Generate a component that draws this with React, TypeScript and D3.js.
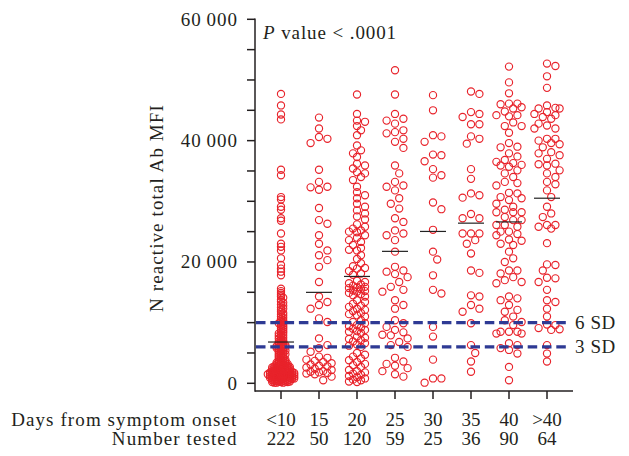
import React from "react";
import * as d3 from "d3";

// ---- data (values in thousands of MFI) ----
const categories = ["<10", "15", "20", "25", "30", "35", "40", ">40"];
const numberTested = ["222", "50", "120", "59", "25", "36", "90", "64"];

const lt10 = [
  47.7, 45.8, 44.3, 43.5, 35.2, 34.3, 30.7, 30.3, 29.1, 28.6, 27.2, 26.8, 24.7, 23.0, 22.5, 21.9, 20.6, 19.5, 18.9, 18.4, 17.8,
  15.6, 15.2, 14.9, 14.6, 14.3, 14.1, 13.8, 13.5, 13.3, 13.0, 12.8, 12.5, 12.3, 12.1, 11.8, 11.6, 11.4, 11.2, 11.0, 10.8, 10.6, 10.4, 10.3, 10.1, 10.0,
  9.9, 9.8, 9.6, 9.5, 9.3, 9.2, 9.0, 8.9, 8.7, 8.6, 8.4, 8.3, 8.2, 8.0, 7.9, 7.8, 7.6, 7.5, 7.4, 7.3, 7.1, 7.0, 6.9, 6.8, 6.7, 6.6, 6.5, 6.4, 6.3, 6.3, 6.2, 6.1, 6.1, 6.0, 6.0,
  5.9, 5.8, 5.8, 5.7, 5.6, 5.5, 5.4, 5.4, 5.3, 5.2, 5.1, 5.0, 4.9, 4.8, 4.8, 4.7, 4.6, 4.5, 4.4, 4.3, 4.2, 4.1, 4.0, 3.9, 3.9, 3.8, 3.7, 3.6, 3.6, 3.5, 3.4, 3.4, 3.3, 3.3, 3.2, 3.2, 3.1, 3.1, 3.0, 3.0,
  2.9, 2.9, 2.8, 2.8, 2.7, 2.7, 2.6, 2.6, 2.5, 2.5, 2.4, 2.4, 2.3, 2.3, 2.2, 2.2, 2.1, 2.1, 2.0, 2.0,
  1.9, 1.9, 1.9, 1.8, 1.8, 1.8, 1.7, 1.7, 1.7, 1.6, 1.6, 1.6, 1.5, 1.5, 1.5, 1.4, 1.4, 1.4, 1.3, 1.3,
  1.3, 1.2, 1.2, 1.2, 1.1, 1.1, 1.1, 1.0, 1.0, 1.0,
  0.9, 0.9, 0.9, 0.8, 0.8, 0.8, 0.7, 0.7, 0.7, 0.6,
  0.6, 0.6, 0.5, 0.5, 0.5, 0.4, 0.4, 0.4, 0.3, 0.3,
  0.3, 0.2, 0.2, 0.2, 0.1, 0.1, 0.1, 1.9, 1.8, 1.7,
  1.6, 1.5, 1.4, 1.3, 1.2, 1.1, 1.0, 0.9, 0.8, 0.7,
  2.0, 2.1, 2.2, 2.3, 2.4, 2.5, 2.6, 2.7, 2.8, 1.5,
  1.5,
];

const d15 = [
  43.8, 42.0, 40.6, 40.3, 39.6, 35.2, 33.2, 32.4, 32.3, 31.9, 28.9, 26.9, 26.3, 24.4, 23.0, 21.9, 21.1, 20.3, 19.2, 16.7,
  14.3, 13.4, 12.9, 12.3, 10.7, 10.1, 7.4, 6.3, 5.8, 5.2,
  4.4, 4.2, 3.9, 3.7, 3.5, 3.3, 3.1, 2.9, 2.8, 2.6, 2.4, 2.2, 2.0, 1.8, 1.6, 1.9, 1.7, 1.5, 1.1, 0.5,
];

const d20 = [
  47.6, 44.4, 43.3, 43.1, 42.4, 41.7, 40.9, 39.2, 38.4, 37.9, 37.3, 36.2, 35.9, 35.4, 34.8, 34.6, 34.0, 33.5, 32.4,
  31.5, 31.0, 30.5, 29.6, 29.1, 28.5, 28.0, 27.5,
  26.2, 25.8, 25.5, 25.2, 24.9, 24.4, 24.0, 23.6, 23.3, 22.8, 22.3, 21.9, 21.1, 20.5, 19.8, 19.3, 18.9, 18.5, 18.1, 17.9,
  27.0, 25.0, 22.0, 19.0,
  16.9, 16.7, 16.5, 16.3, 16.1, 15.9, 15.7, 15.5, 15.3, 15.1, 14.9, 14.7, 14.5, 14.3, 15.8, 15.2,
  13.7, 13.4, 13.1, 12.8, 12.6, 12.3, 12.1, 11.9, 11.6, 11.4, 11.2, 11.0,
  10.4, 10.1, 9.9, 9.6, 9.4, 9.2, 9.0, 8.8, 8.6, 8.5, 8.3,
  7.7, 7.5, 7.3, 7.1, 6.9, 6.6, 6.4, 6.2, 6.0,
  5.0, 4.7, 4.4, 4.1, 3.8, 3.5, 3.2, 3.0, 2.7,
  2.2, 2.0, 1.8, 1.6, 1.4, 1.2, 1.0, 0.8, 0.6, 0.5, 0.3, 0.2,
];

const d25 = [
  51.6, 47.6, 44.4, 43.6, 43.3, 42.8, 41.7, 41.4, 41.2, 40.3, 39.8, 38.8,
  35.9, 34.6, 33.2, 32.6, 32.4, 31.8, 30.5, 29.6, 28.8, 27.2,
  26.6, 25.2, 24.7, 24.4, 23.6, 21.7,
  19.2, 18.6, 18.4, 16.7, 15.9, 15.4, 15.1, 13.7, 12.9, 12.3,
  10.4, 9.3, 8.0, 7.4, 6.8,
  17.5, 18.0, 9.9, 8.8, 8.4, 7.9, 6.3, 6.0, 4.2, 3.6, 3.2, 2.9, 2.5, 2.0, 1.5, 1.1,
];

const d30 = [
  47.5, 45.0, 40.9, 40.7, 39.8, 37.7, 37.6, 36.6, 35.3, 34.3, 33.9, 29.8, 28.7, 25.3,
  21.7, 20.4, 17.8, 15.4, 14.8, 9.3, 7.7, 3.9, 0.8, 0.8, 0.1,
];

const d35 = [
  48.1, 47.7, 44.7, 44.4, 43.9, 42.7, 42.7, 40.7, 40.3, 39.5, 35.3, 33.7, 31.3, 31.0, 30.6,
  27.9, 27.2, 27.2, 24.7, 24.7, 24.7, 23.6, 23.0, 21.4, 18.6, 18.2,
  14.5, 14.3, 12.9, 12.3, 11.8, 9.9, 6.3, 5.0, 3.6, 1.9,
];

const d40 = [
  52.2, 49.6, 47.8, 46.1, 46.1, 46.0, 45.5, 45.3, 44.2, 44.2, 44.0, 42.4, 42.4, 41.3, 39.6, 38.9,
  37.9, 37.4, 36.8, 36.5, 36.3, 35.9, 35.7, 35.1, 34.6, 34.0, 33.2, 33.0, 32.6, 31.4, 31.3, 30.7,
  30.5, 30.2, 29.6, 29.1, 28.2, 28.2, 28.2, 27.4, 26.9, 26.9, 26.1, 26.1, 25.8, 25.0, 25.0, 24.6, 24.4,
  23.7, 23.5, 23.0, 22.8, 21.7, 20.6, 20.0, 18.6, 18.6, 18.1, 17.0, 16.7, 16.5,
  14.3, 14.0, 13.7, 12.9, 12.1, 11.8, 11.0, 10.4, 10.1, 9.6, 8.5, 8.5, 8.5, 8.2, 8.2,
  6.3, 5.8, 5.5, 4.9, 2.7, 0.5,
  44.8, 43.0, 39.0, 36.0, 28.6, 17.5, 6.6,
];

const gt40 = [
  52.7, 52.3, 50.6, 48.7, 45.8, 45.4, 45.3, 45.3, 44.7, 44.4, 44.2, 43.9, 43.6, 42.8, 42.5, 42.0, 42.0,
  40.3, 40.3, 40.0, 39.6, 39.4, 38.9, 38.1, 37.9, 37.6, 37.0, 36.2, 36.1, 35.9, 35.1, 34.6, 34.0,
  33.2, 32.8, 31.8, 30.7,
  29.1, 28.0, 27.4, 26.1, 26.1, 25.8, 25.5, 23.1, 19.6, 19.5, 18.6, 17.4, 17.3, 16.7, 15.4,
  13.7, 13.4, 12.3, 11.0, 9.7, 9.6, 9.1, 8.9, 8.8, 6.3, 4.9, 3.6,
];

const seriesK = [lt10, d15, d20, d25, d30, d35, d40, gt40];
const yMajorTicks = [0, 20000, 40000, 60000];
const sdLevels = [
  { label: "6 SD", value: 10000 },
  { label: "3 SD", value: 6000 },
];

// swarm layout parameters per column (collision distance, slot step, slot count)
const swarmGap = [1.7, 8, 5.2, 8, 8, 8, 7, 7];
const swarmStep = [2.2, 4.2, 4.0, 4.2, 4.2, 4.2, 4.2, 4.2];
const swarmSlots = [6, 3, 2, 3, 3, 3, 3, 3];

const W = 629;
const H = 456;
const FONT = "'Liberation Serif', 'Times New Roman', serif";
const TXT = "#231f20";
const RED = "#e8232b";
const BLUE = "#2e3a94";

type P = { v: number; py: number; dx: number };

function swarm(values: number[], y: (v: number) => number, gap: number, step: number, nSlots: number): P[] {
  const pts: P[] = values.map((v) => ({ v, py: y(v), dx: 0 }));
  const order = pts.slice().sort((a, b) => a.py - b.py);
  const slots = [0];
  for (let k = 1; k <= nSlots; k++) slots.push(k * step, -k * step);
  const placed: P[] = [];
  for (const p of order) {
    let best = 0;
    let bestD = -1;
    for (const s of slots) {
      let md = Infinity;
      for (const q of placed) {
        const dy = q.py - p.py;
        if (Math.abs(dy) >= gap) continue;
        md = Math.min(md, Math.hypot(q.dx - s, dy));
      }
      if (md >= gap) {
        best = s;
        bestD = Infinity;
        break;
      }
      if (md > bestD) {
        bestD = md;
        best = s;
      }
    }
    p.dx = best;
    placed.push(p);
  }
  return pts;
}

export default function App() {
  const y = d3.scaleLinear().domain([0, 60000]).range([383.3, 19.3]);
  const x = d3.scalePoint<string>().domain(categories).range([281, 547]);
  const axisX = 255;
  const baseY = 391;
  const minorTicks = d3.range(0, 60001, 5000);
  const fmt = (v: number) => (v === 0 ? "0" : d3.format(",")(v).replace(",", "\u2009"));

  const cols = seriesK.map((arr, i) => {
    const vals = arr.map((k) => k * 1000);
    return {
      cat: categories[i],
      pts: swarm(vals, y, swarmGap[i], swarmStep[i], swarmSlots[i]),
      mean: d3.mean(vals) as number,
    };
  });

  return (
    <svg
      width={W}
      height={H}
      viewBox={`0 0 ${W} ${H}`}
      style={{ position: "absolute", left: 0, top: 0, background: "#fff" }}
      fontFamily={FONT}
    >
      {/* points */}
      {cols.map((c) => (
        <g key={c.cat}>
          {c.pts.map((p, j) => (
            <circle
              key={j}
              cx={(x(c.cat) as number) + p.dx}
              cy={p.py}
              r={3.6}
              fill="none"
              stroke={RED}
              strokeWidth={1.15}
            />
          ))}
        </g>
      ))}

      {/* SD lines */}
      {sdLevels.map((s) => (
        <g key={s.label}>
          <line
            x1={axisX + 1}
            x2={568}
            y1={y(s.value)}
            y2={y(s.value)}
            stroke={BLUE}
            strokeWidth={3.2}
            strokeDasharray="9.5 4.8"
          />
          <text x={575} y={y(s.value) + 6} fontSize={19} fill={TXT} letterSpacing={0.6}>
            {s.label}
          </text>
        </g>
      ))}

      {/* mean lines */}
      {cols.map((c) => (
        <line
          key={"m" + c.cat}
          x1={(x(c.cat) as number) - 13}
          x2={(x(c.cat) as number) + 13}
          y1={y(c.mean)}
          y2={y(c.mean)}
          stroke="#222"
          strokeWidth={1.2}
        />
      ))}

      {/* axes */}
      <line x1={axisX} x2={axisX} y1={y(60000) - 0.7} y2={baseY + 0.7} stroke={TXT} strokeWidth={1.5} />
      <line x1={axisX} x2={573} y1={baseY} y2={baseY} stroke={TXT} strokeWidth={1.5} />
      {minorTicks.map((t) => (
        <line key={"t" + t} x1={axisX - 8} x2={axisX} y1={y(t)} y2={y(t)} stroke={TXT} strokeWidth={1.5} />
      ))}
      {yMajorTicks.map((t) => (
        <text key={"l" + t} x={238} y={y(t) + 6.5} textAnchor="end" fontSize={19} fill={TXT} letterSpacing={1}>
          {fmt(t)}
        </text>
      ))}
      {categories.map((c, i) => (
        <g key={"x" + c}>
          <line x1={x(c)} x2={x(c)} y1={baseY} y2={baseY + 8} stroke={TXT} strokeWidth={1.5} />
          <text x={x(c)} y={425.5} textAnchor="middle" fontSize={19} fill={TXT}>
            {c}
          </text>
          <text x={x(c)} y={444.5} textAnchor="middle" fontSize={19} fill={TXT}>
            {numberTested[i]}
          </text>
        </g>
      ))}

      <text x={237.5} y={425.5} textAnchor="end" fontSize={19} fill={TXT} letterSpacing={1.1}>
        Days from symptom onset
      </text>
      <text x={237.5} y={444.5} textAnchor="end" fontSize={19} fill={TXT} letterSpacing={1.1}>
        Number tested
      </text>
      <text
        transform="translate(163,208) rotate(-90)"
        textAnchor="middle"
        fontSize={19}
        fill={TXT}
        letterSpacing={1.1}
      >
        N reactive total Ab MFI
      </text>
      <text x={263} y={38.5} fontSize={19} fill={TXT} letterSpacing={0.9}>
        <tspan fontStyle="italic">P</tspan>
        <tspan> value &lt; .0001</tspan>
      </text>
    </svg>
  );
}
